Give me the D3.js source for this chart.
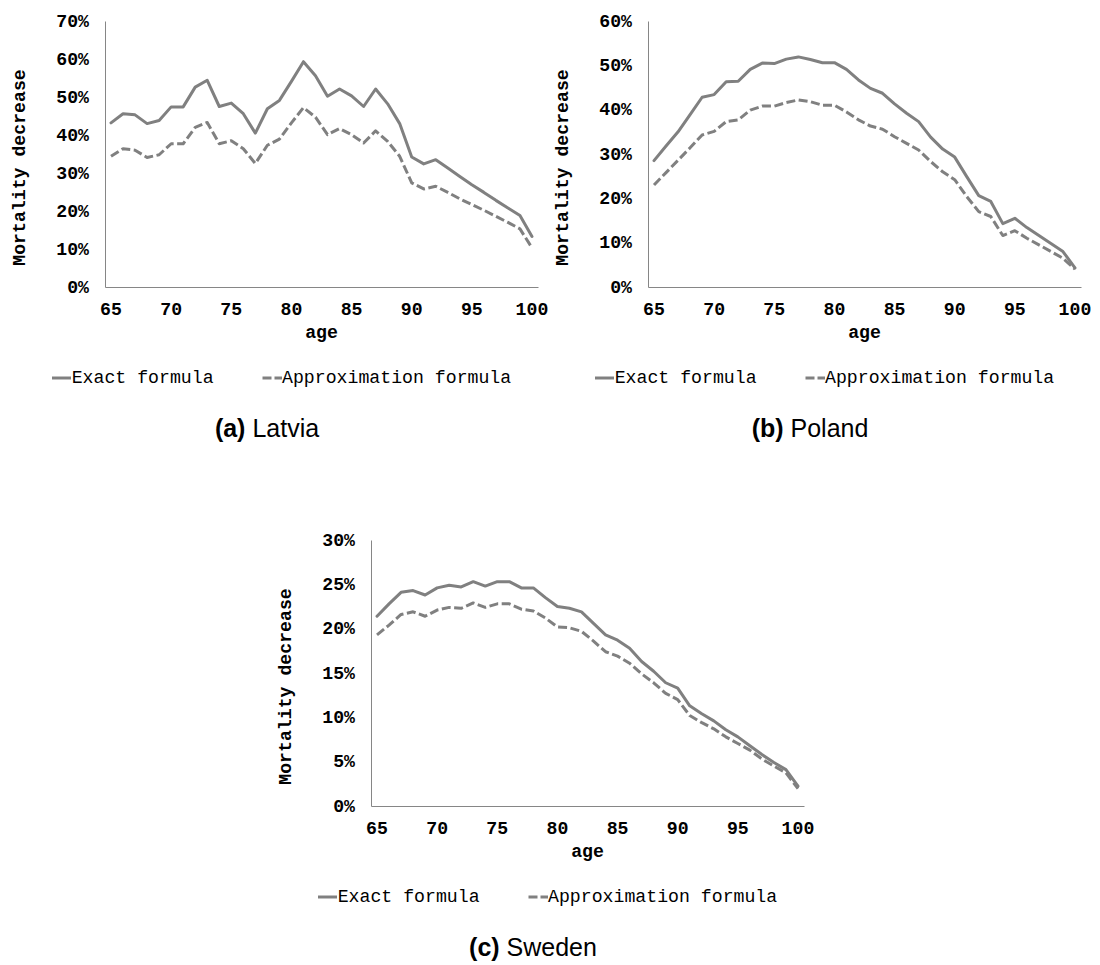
<!DOCTYPE html>
<html>
<head>
<meta charset="utf-8">
<script src="https://cdn.jsdelivr.net/npm/d3@7"></script>
<style>
  html, body { margin: 0; padding: 0; background: #fff; }
  svg { display: block; }
</style>
</head>
<body>
<script>
// ---------- data ----------
const ages = [65,66,67,68,69,70,71,72,73,74,75,76,77,78,79,80,81,82,83,84,85,86,87,88,89,90,91,92,93,94,95,96,97,98,99,100];
const xTickLabels = [65,70,75,80,85,90,95,100];
const seriesNames = ["Exact formula", "Approximation formula"];

const latviaTicks = [0,10,20,30,40,50,60,70];
const latviaExact = [43.2,45.6,45.3,43.0,43.8,47.4,47.4,52.6,54.4,47.5,48.4,45.6,40.5,46.9,49.1,54.1,59.3,55.6,50.2,52.1,50.3,47.5,52.1,48.2,43.0,34.2,32.4,33.5,31.3,29.1,26.9,24.9,22.8,20.8,18.8,13.3];
const latviaApprox = [34.4,36.4,36.0,34.1,34.8,37.7,37.7,42.0,43.3,37.7,38.5,36.4,32.5,37.3,38.9,43.2,47.2,44.7,40.1,41.7,40.1,37.9,41.1,38.3,34.4,27.4,25.8,26.5,24.9,23.2,21.7,20.2,18.6,17.0,15.3,10.3];

const polandTicks = [0,10,20,30,40,50,60];
const polandExact = [28.5,31.8,35.0,38.9,42.8,43.4,46.3,46.4,49.1,50.5,50.4,51.4,51.9,51.3,50.6,50.6,49.1,46.7,44.8,43.7,41.3,39.2,37.3,33.8,31.1,29.3,24.9,20.6,19.3,14.3,15.5,13.4,11.6,9.8,8.0,4.3];
const polandApprox = [23.0,25.8,28.6,31.4,34.3,35.1,37.3,37.7,39.9,40.8,40.8,41.6,42.2,41.8,41.0,41.0,39.5,37.7,36.3,35.6,33.9,32.4,30.9,28.3,26.0,24.2,20.4,17.0,15.9,11.6,12.7,11.0,9.5,8.0,6.5,4.0];

const swedenTicks = [0,5,10,15,20,25,30];
const swedenExact = [21.4,22.8,24.1,24.3,23.8,24.6,24.9,24.7,25.3,24.8,25.3,25.3,24.6,24.6,23.5,22.5,22.3,21.9,20.6,19.3,18.7,17.8,16.3,15.2,13.9,13.3,11.3,10.4,9.6,8.6,7.8,6.8,5.8,4.9,4.1,2.25];
const swedenApprox = [19.3,20.4,21.6,21.9,21.4,22.1,22.4,22.3,22.9,22.4,22.8,22.8,22.2,22.0,21.2,20.2,20.1,19.7,18.6,17.4,16.9,16.1,14.9,13.9,12.7,12.0,10.2,9.4,8.7,7.8,7.05,6.3,5.3,4.5,3.75,1.95];

// ---------- layout ----------
const W = 1100, H = 965;
const plotW = 433, plotH = 266;
const lineColor = "#808080";
const axisColor = "#868686";
const mono = "'Liberation Mono', 'Courier New', monospace";
const sans = "'Liberation Sans', Arial, sans-serif";
const fs = 18.2;

const panels = [
  { letter: "(a)", name: "Latvia", left: 105, top: 21, ticks: latviaTicks, exact: latviaExact, approx: latviaApprox },
  { letter: "(b)", name: "Poland", left: 648, top: 21, ticks: polandTicks, exact: polandExact, approx: polandApprox },
  { letter: "(c)", name: "Sweden", left: 371, top: 540, ticks: swedenTicks, exact: swedenExact, approx: swedenApprox }
];

const svg = d3.select("body").append("svg").attr("width", W).attr("height", H);

panels.forEach(p => {
  const g = svg.append("g").attr("transform", `translate(${p.left},${p.top})`);
  const x = d3.scaleBand().domain(ages).range([0, plotW]);
  const yMax = p.ticks[p.ticks.length - 1];
  const y = d3.scaleLinear().domain([0, yMax]).range([plotH, 0]);
  const cx = a => x(a) + x.bandwidth() / 2;

  // y axis
  const yAx = g.append("g").call(d3.axisLeft(y).tickValues(p.ticks).tickFormat(d => d + "%").tickSize(0).tickSizeOuter(0).tickPadding(16));
  yAx.select(".domain").attr("stroke", axisColor).attr("stroke-width", 1);
  yAx.selectAll("text").attr("font-family", mono).attr("font-weight", "bold").attr("font-size", fs).attr("fill", "#000").attr("dy", "0.29em");

  // x axis
  const xAx = g.append("g").attr("transform", `translate(0,${plotH})`)
    .call(d3.axisBottom(x).tickValues(xTickLabels).tickSize(0).tickSizeOuter(0).tickPadding(0));
  xAx.select(".domain").attr("stroke", axisColor).attr("stroke-width", 1);
  xAx.selectAll("text").attr("font-family", mono).attr("font-weight", "bold").attr("font-size", fs).attr("fill", "#000").attr("dy", null).attr("y", 28);

  // axis titles
  g.append("text").attr("transform", `translate(-80,${plotH / 2 + 13.5}) rotate(-90)`)
    .attr("text-anchor", "middle").attr("font-family", mono).attr("font-weight", "bold").attr("font-size", fs)
    .attr("fill", "#000").text("Mortality decrease");
  g.append("text").attr("x", plotW / 2).attr("y", plotH + 51).attr("text-anchor", "middle")
    .attr("font-family", mono).attr("font-weight", "bold").attr("font-size", fs).attr("fill", "#000").text("age");

  // lines
  const line = d3.line().x((d, i) => cx(ages[i])).y(d => y(d)).curve(d3.curveLinear);
  g.append("path").datum(p.exact).attr("d", line).attr("fill", "none").attr("stroke", lineColor)
    .attr("stroke-width", 3).attr("stroke-linejoin", "round").attr("stroke-linecap", "round");
  g.append("path").datum(p.approx).attr("d", line).attr("fill", "none").attr("stroke", lineColor)
    .attr("stroke-width", 3).attr("stroke-dasharray", "9,3.5").attr("stroke-linejoin", "round");

  // legend
  const ly = plotH + 91;
  const leg = g.append("g");
  leg.append("line").attr("x1", -53).attr("x2", -34).attr("y1", ly).attr("y2", ly)
    .attr("stroke", lineColor).attr("stroke-width", 3);
  leg.append("text").attr("x", -33.3).attr("y", ly).attr("dy", "0.29em").attr("font-family", mono)
    .attr("font-size", fs).attr("fill", "#000").text(seriesNames[0]);
  leg.append("line").attr("x1", 157.5).attr("x2", 177).attr("y1", ly).attr("y2", ly)
    .attr("stroke", lineColor).attr("stroke-width", 3).attr("stroke-dasharray", "9,3");
  leg.append("text").attr("x", 177).attr("y", ly).attr("dy", "0.29em").attr("font-family", mono)
    .attr("font-size", fs).attr("fill", "#000").text(seriesNames[1]);

  // caption
  const cap = g.append("text").attr("x", 162).attr("y", plotH + 150).attr("text-anchor", "middle")
    .attr("font-family", sans).attr("font-size", 25).attr("fill", "#000");
  cap.append("tspan").attr("font-weight", "bold").text(p.letter);
  cap.append("tspan").text(" " + p.name);
});
</script>
</body>
</html>
